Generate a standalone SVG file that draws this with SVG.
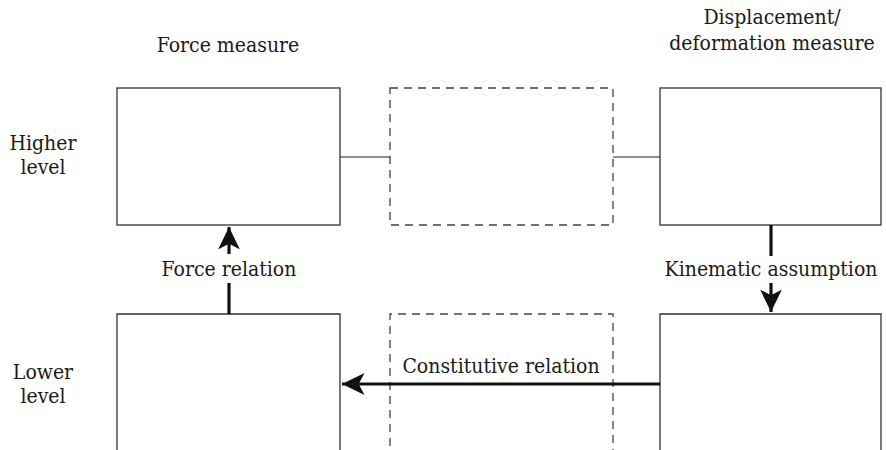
<svg xmlns="http://www.w3.org/2000/svg" width="886" height="450" viewBox="0 0 886 450">
<style>
text{font-family:'DejaVu Serif Condensed','DejaVu Serif',serif;font-size:21px;fill:#1a1a1a}
.box{fill:none;stroke:#333;stroke-width:1.3}
.dash{fill:none;stroke:#444;stroke-width:1.3;stroke-dasharray:8,6}
.thin{stroke:#222;stroke-width:1.2;fill:none}
.arrow{stroke:#111;stroke-width:3.2;fill:none}
</style>
<defs>
<marker id="ah" markerWidth="8" markerHeight="8" refX="7" refY="4" orient="auto" markerUnits="strokeWidth">
<path d="M0,0.6 L7,4 L0,7.4 L1.8,4 Z" fill="#111"/>
</marker>
</defs>
<rect width="886" height="450" fill="#fff"/>
<g id="labels">
<text x="228" y="52" text-anchor="middle">Force measure</text>
<text x="772" y="24" text-anchor="middle">Displacement/</text>
<text x="772" y="50" text-anchor="middle">deformation measure</text>
<text x="43" y="150" text-anchor="middle">Higher</text>
<text x="43" y="174" text-anchor="middle">level</text>
<text x="43" y="379" text-anchor="middle">Lower</text>
<text x="43" y="403" text-anchor="middle">level</text>
</g>
<g id="force-high"><rect class="box" x="117" y="88" width="223" height="137"/></g>
<g id="mid-high"><rect class="dash" x="390" y="88" width="223" height="137"/></g>
<g id="disp-high"><rect class="box" x="660" y="88" width="221" height="137"/></g>
<g id="force-low"><path class="box" d="M117,460 V314 H340 V460"/></g>
<g id="mid-low"><path class="dash" d="M390,460 V314 H613 V460"/></g>
<g id="disp-low"><path class="box" d="M660,460 V314 H881 V460"/></g>
<g id="connectors">
<line class="thin" x1="340" y1="157" x2="390" y2="157"/>
<line class="thin" x1="613" y1="157" x2="660" y2="157"/>
<line class="arrow" x1="229" y1="314" x2="229" y2="283"/>
<line class="arrow" x1="229" y1="254" x2="229" y2="227" marker-end="url(#ah)"/>
<text x="229" y="276" text-anchor="middle">Force relation</text>
<line class="arrow" x1="771" y1="225" x2="771" y2="256"/>
<line class="arrow" x1="771" y1="283" x2="771" y2="312" marker-end="url(#ah)"/>
<text x="771" y="276" text-anchor="middle">Kinematic assumption</text>
<line class="arrow" x1="660" y1="384" x2="342" y2="384" marker-end="url(#ah)"/>
<text x="501" y="373" text-anchor="middle">Constitutive relation</text>
</g>
</svg>
